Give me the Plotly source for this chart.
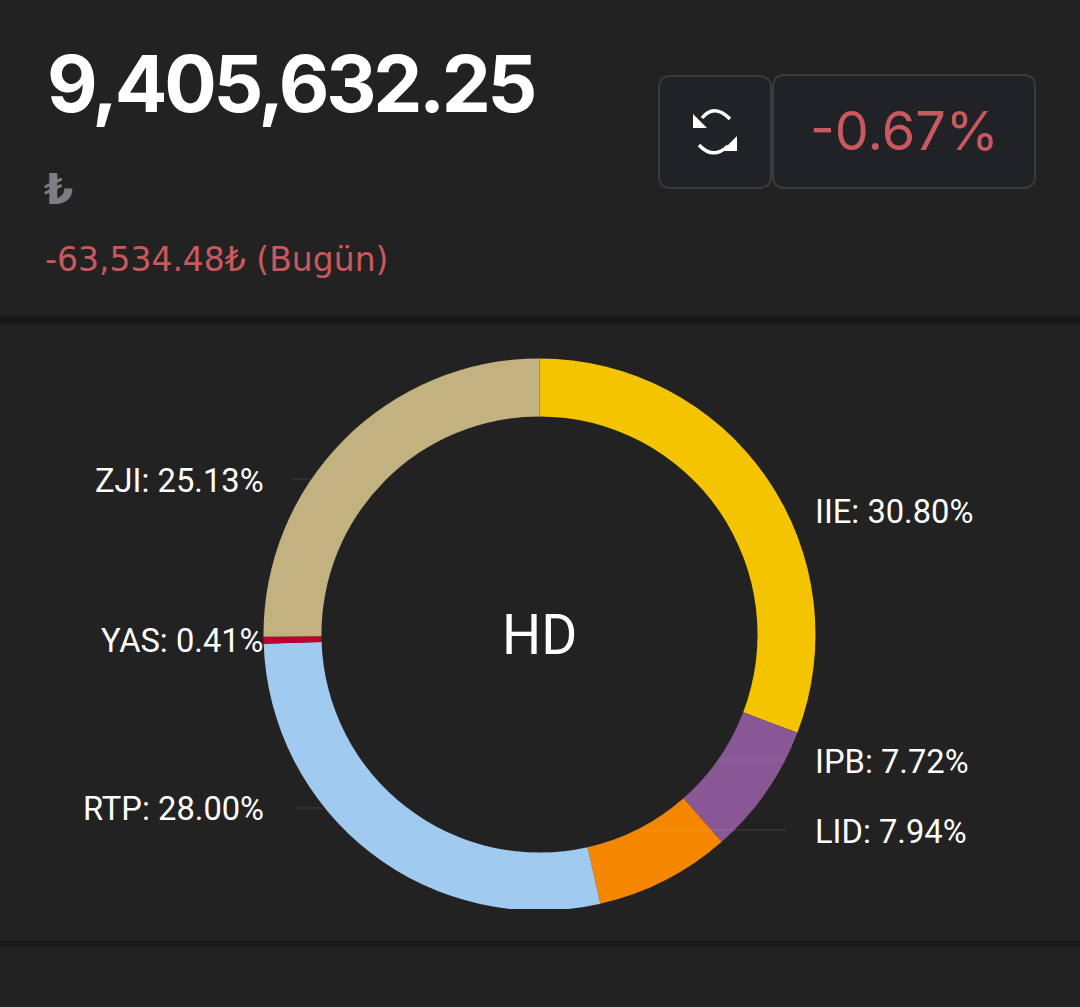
# Portfolio donut screen, dark theme
import plotly.graph_objects as go

W, H = 1080, 1007

# === Data ===
names = ["IIE", "IPB", "LID", "RTP", "YAS", "ZJI"]
shares = [30.80, 7.72, 7.94, 28.00, 0.41, 25.13]
total_text = "9,405,632.25"
currency = "₺"
change_text = "-63,534.48₺ (Bugün)"
change_pct = "-0.67%"
center_text = "HD"

# === Styles and layout ===
colors = ["#f4c400", "#8a5795", "#f48600", "#a1caf1", "#be0032", "#c2b280"]
BG = "#222222"
BAND = "#191919"
BTN = "#202226"
BTN_EDGE = "#3a3b3e"
RED = "#c9585f"
CX, CY, R = 539.5, 634.5, 276

# label anchor side, x, y for each slice
label_pos = [("left", 814, 512), ("left", 814, 762), ("left", 814, 832),
             ("right", 265, 809), ("right", 265, 641), ("right", 265, 481)]
# faint leader lines: x0, x1, y
leaders = [(292, 310, 479), (292, 322, 808), (720, 784, 760), (643, 787, 830)]


def px(x):
    return x / W


def py(y):
    return 1 - y / H


def rect(x0, y0, x1, y1, color):
    return dict(type="rect", xref="paper", yref="paper", x0=px(x0), x1=px(x1),
                y0=py(y1), y1=py(y0), fillcolor=color, line_width=0, layer="above")


def round_box(x0, y0, x1, y1, r=12):
    p = (f"M{px(x0 + r)},{py(y0)} L{px(x1 - r)},{py(y0)} Q{px(x1)},{py(y0)} {px(x1)},{py(y0 + r)} "
         f"L{px(x1)},{py(y1 - r)} Q{px(x1)},{py(y1)} {px(x1 - r)},{py(y1)} "
         f"L{px(x0 + r)},{py(y1)} Q{px(x0)},{py(y1)} {px(x0)},{py(y1 - r)} "
         f"L{px(x0)},{py(y0 + r)} Q{px(x0)},{py(y0)} {px(x0 + r)},{py(y0)} Z")
    return dict(type="path", xref="paper", yref="paper", path=p, fillcolor=BTN,
                line=dict(color=BTN_EDGE, width=2), layer="above")


def arc(x0, y0, cx, cy, x1, y1):
    p = f"M{px(x0)},{py(y0)} Q{px(cx)},{py(cy)} {px(x1)},{py(y1)}"
    return dict(type="path", xref="paper", yref="paper", path=p,
                line=dict(color="white", width=3.5), layer="above")


def tri(a, b, c):
    p = f"M{px(a[0])},{py(a[1])} L{px(b[0])},{py(b[1])} L{px(c[0])},{py(c[1])} Z"
    return dict(type="path", xref="paper", yref="paper", path=p, fillcolor="white",
                line_width=0, layer="above")


def note(x, y, text, size, color="white", family="Roboto", anchor="left"):
    return dict(x=px(x), y=py(y), xref="paper", yref="paper", text=text, showarrow=False,
                xanchor=anchor, yanchor="middle", borderpad=0, align=anchor,
                font=dict(size=size, color=color, family=family))


# === Donut ===
fig = go.Figure(go.Pie(
    labels=names,
    values=shares,
    hole=0.79,
    sort=False,
    direction="clockwise",
    rotation=0,
    textinfo="none",
    showlegend=False,
    marker=dict(colors=colors, line=dict(width=0)),
    domain=dict(x=[px(CX - R), px(CX + R)], y=[py(CY + R), py(CY - R)]),
))

shapes = [
    rect(0, 909, W, 941, BG),  # the ring is cut at the bottom of its card
    rect(0, 315, W, 325, BAND),
    rect(0, 941, W, 946, BAND),
    round_box(659, 76, 771, 188),
    round_box(773, 75, 1035, 188),
    arc(702, 118, 714, 103, 730, 119),
    tri((693, 114), (693, 128), (707, 128)),
    arc(699, 145, 713, 160, 728, 146),
    tri((737, 136), (737, 151), (722, 151)),
]
for x0, x1, y in leaders:
    shapes.append(dict(type="line", xref="paper", yref="paper", x0=px(x0), x1=px(x1),
                       y0=py(y), y1=py(y), line=dict(color="rgba(255,255,255,0.13)", width=1),
                       layer="above"))

annotations = [
    note(46, 84, f"<b>{total_text}</b>", 78, family="Inter"),
    note(43, 190, f"<b>{currency}</b>", 42, color="#7d7e85", family="DejaVu Sans"),
    note(44, 259, change_text, 33, color=RED, family="DejaVu Sans"),
    note(904.5, 131, change_pct, 54, color=RED, family="Inter", anchor="center"),
    note(CX, 635, center_text, 55, anchor="center"),
]
for name, share, (side, x, y) in zip(names, shares, label_pos):
    annotations.append(note(x, y, f"{name}: {share:.2f}%", 32.7, anchor=side))

fig.update_layout(
    width=W, height=H,
    margin=dict(l=0, r=0, t=0, b=0),
    paper_bgcolor=BG,
    plot_bgcolor=BG,
    shapes=shapes,
    annotations=annotations,
)

# drop the default page margin so the figure fills the window, tighten the big total
post = ("document.body.style.margin='0';document.body.style.background='#222222';"
        "document.body.style.overflow='hidden';"
        "document.querySelector('.annotation-text').style.letterSpacing='-3.3px';")
fig.write_html("out.html", config=dict(displayModeBar=False), post_script=post)
